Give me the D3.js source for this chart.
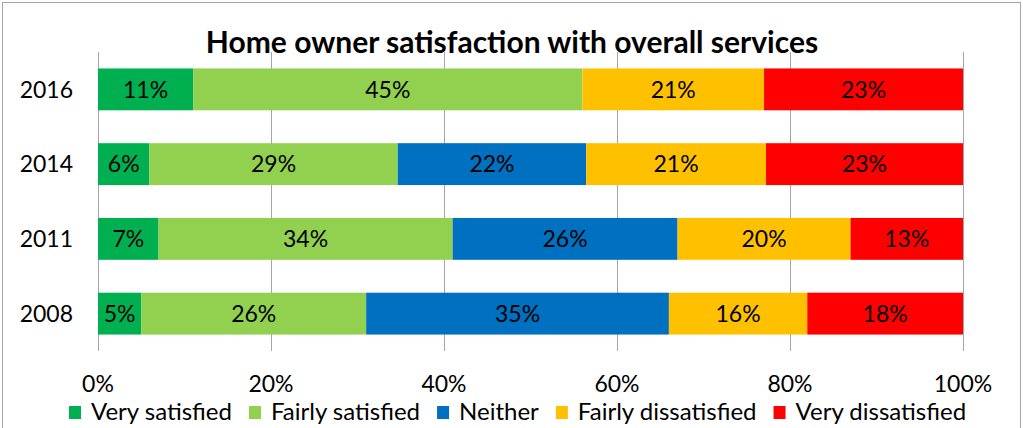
<!DOCTYPE html>
<html>
<head>
<meta charset="utf-8">
<script src="https://cdn.jsdelivr.net/npm/d3@7"></script>
<style>
	body { margin: 0; background: #fff; }
	text { font-family: Lato, "Open Sans", sans-serif; fill: #000; }
</style>
</head>
<body>
<div id="chart"></div>
<script>
const years = ["2016", "2014", "2011", "2008"]
const categories = ["Very satisfied", "Fairly satisfied", "Neither", "Fairly dissatisfied", "Very dissatisfied"]
const colors = ["#00B050", "#92D050", "#0070C0", "#FFC000", "#FF0000"]
const verySatisfied = [11, 6, 7, 5]
const fairlySatisfied = [45, 29, 34, 26]
const neither = [0, 22, 26, 35]
const fairlyDissatisfied = [21, 21, 20, 16]
const veryDissatisfied = [23, 23, 13, 18]
const xTicks = [0, 0.2, 0.4, 0.6, 0.8, 1]

const params = {
	width: 1023, height: 428,
	left: 98, right: 963, top: 52, bottom: 351,
	title: "Home owner satisfaction with overall services"
}

const series = [verySatisfied, fairlySatisfied, neither, fairlyDissatisfied, veryDissatisfied]

// rows of {year, key: value}
const rows = years.map((y, i) => {
	const row = { year: y }
	categories.forEach((c, j) => row[c] = series[j][i])
	return row
})

const stacked = d3.stack()
	.keys(categories)
	.offset(d3.stackOffsetExpand)(rows)

const svg = d3.select("#chart").append("svg")
	.attr("width", params.width)
	.attr("height", params.height)

// outer border
svg.append("rect")
	.attr("x", 2.5).attr("y", 2.5)
	.attr("width", 1018).attr("height", 430)
	.attr("fill", "none")
	.attr("stroke", "#a6a6a6")

const xScale = d3.scaleLinear().domain([0, 1]).range([params.left, params.right])
const yScale = d3.scaleBand().domain(years).range([params.top, params.bottom]).paddingInner(0.44).paddingOuter(0.22)

// gridlines
svg.append("g")
	.selectAll("line")
	.data(xTicks)
	.join("line")
	.attr("x1", d => Math.round(xScale(d)) + 0.5)
	.attr("x2", d => Math.round(xScale(d)) + 0.5)
	.attr("y1", params.top)
	.attr("y2", params.bottom)
	.attr("stroke", "#a6a6a6")

// bars
const layer = svg.append("g")
	.selectAll("g")
	.data(stacked)
	.join("g")
	.attr("fill", (d, i) => colors[i])

layer.selectAll("rect")
	.data(d => d.filter(s => s[1] - s[0] > 0))
	.join("rect")
	.attr("x", d => xScale(d[0]))
	.attr("width", d => xScale(d[1]) - xScale(d[0]))
	.attr("y", d => yScale(d.data.year))
	.attr("height", yScale.bandwidth())

// data labels
layer.selectAll("text")
	.data((d, i) => d.filter(s => s[1] - s[0] > 0).map(s => ({ s, key: d.key })))
	.join("text")
	.attr("x", d => (xScale(d.s[0]) + xScale(d.s[1])) / 2)
	.attr("y", d => yScale(d.s.data.year) + yScale.bandwidth() / 2)
	.attr("dy", "0.36em")
	.attr("text-anchor", "middle")
	.attr("font-size", "23px")
	.text(d => d.s.data[d.key] + "%")

// y axis labels
svg.append("g")
	.selectAll("text")
	.data(years)
	.join("text")
	.attr("x", 73)
	.attr("y", d => yScale(d) + yScale.bandwidth() / 2)
	.attr("dy", "0.36em")
	.attr("text-anchor", "end")
	.attr("font-size", "23px")
	.text(d => d)

// x axis labels
svg.append("g")
	.selectAll("text")
	.data(xTicks)
	.join("text")
	.attr("x", d => xScale(d))
	.attr("y", 392)
	.attr("text-anchor", "middle")
	.attr("font-size", "23px")
	.text(d3.format(".0%"))

// title
svg.append("text")
	.attr("x", 512)
	.attr("y", 53)
	.attr("text-anchor", "middle")
	.attr("font-size", "30px")
	.attr("font-weight", "bold")
	.text(params.title)

// legend
const legend = svg.append("g")
let lx = 69
categories.forEach((c, i) => {
	legend.append("rect")
		.attr("x", lx).attr("y", 406)
		.attr("width", 12).attr("height", 13)
		.attr("fill", colors[i])
	const t = legend.append("text")
		.attr("x", lx + 22)
		.attr("y", 420)
		.attr("font-size", "24px")
		.text(c)
	lx += 22 + t.node().getComputedTextLength() + 17
})
</script>
</body>
</html>
